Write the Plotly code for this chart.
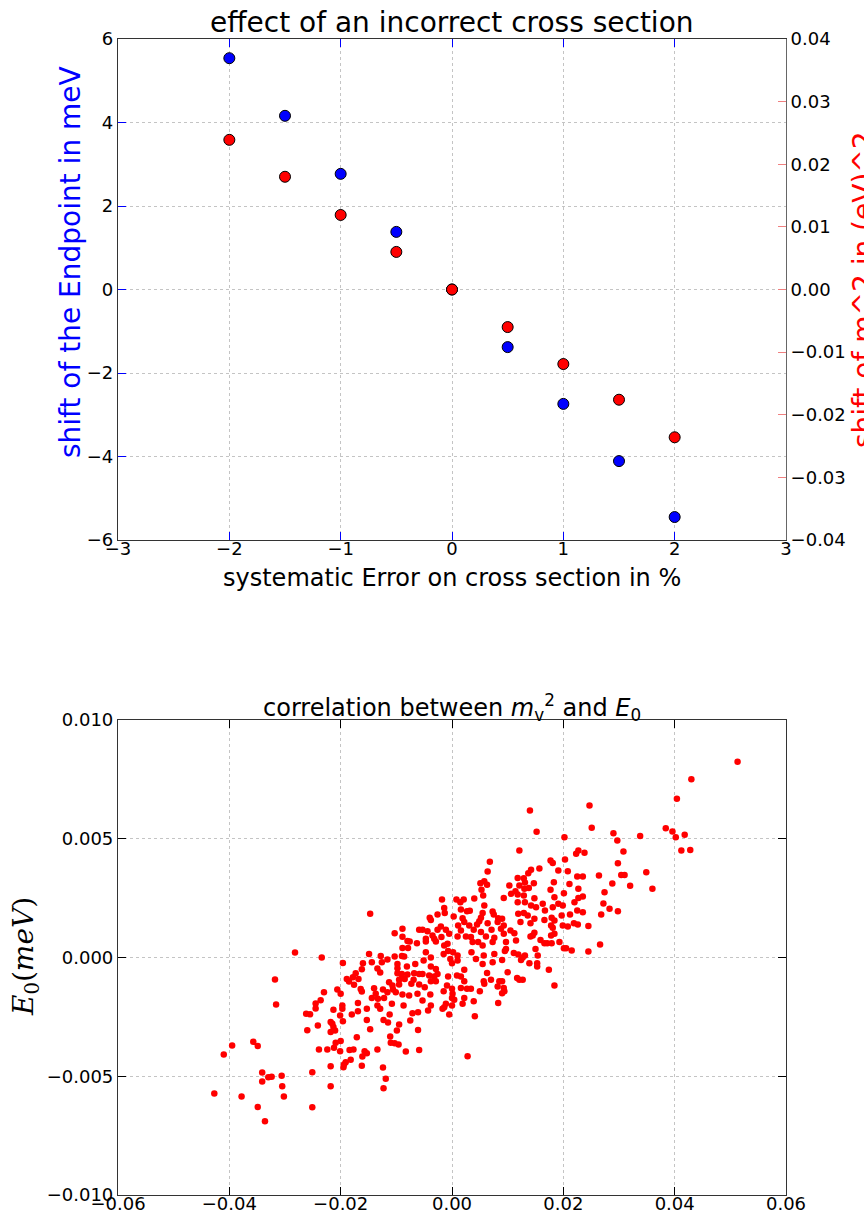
import plotly.graph_objects as go

# ---------------- top panel data ----------------
cs_error_pct = [-2.0, -1.5, -1.0, -0.5, 0.0, 0.5, 1.0, 1.5, 2.0]
endpoint_shift_meV = [5.54, 4.16, 2.77, 1.38, 0.0, -1.38, -2.74, -4.11, -5.45]
m2_shift_eV2 = [0.0239, 0.0180, 0.0119, 0.0060, 0.0, -0.0060, -0.0119, -0.0176, -0.0236]

top_x_ticks = [-3, -2, -1, 0, 1, 2, 3]
top_y_ticks = [-6, -4, -2, 0, 2, 4, 6]
top_y2_ticks = [-0.04, -0.03, -0.02, -0.01, 0.0, 0.01, 0.02, 0.03, 0.04]

# ---------------- bottom panel data (m_v^2 shift, E0 shift) ----------------
corr_pairs = [
    (-0.0282, 0.00021), (-0.0234, 0.00000), (-0.0318, -0.00093), (-0.0230, -0.00146), (-0.0236, -0.00180),
    (-0.0245, -0.00194), (-0.0245, -0.00215), (-0.0316, -0.00198), (-0.0262, -0.00237), (-0.0255, -0.00239),
    (-0.0218, -0.00272), (-0.0241, -0.00286), (-0.0260, -0.00306), (-0.0218, -0.00314), (-0.0357, -0.00355),
    (-0.0349, -0.00373), (-0.0395, -0.00371), (-0.0410, -0.00408), (-0.0239, -0.00387), (-0.0224, -0.00387),
    (-0.0218, -0.00458), (-0.0341, -0.00484), (-0.0341, -0.00522), (-0.0330, -0.00504), (-0.0324, -0.00502),
    (-0.0306, -0.00498), (-0.0251, -0.00483), (-0.0305, -0.00542), (-0.0302, -0.00585), (-0.0218, -0.00542),
    (-0.0427, -0.00573), (-0.0378, -0.00585), (-0.0349, -0.00629), (-0.0251, -0.00630), (-0.0336, -0.00689),
    (-0.0147, 0.00184), (-0.0089, 0.00121), (-0.0103, 0.00102), (-0.0089, 0.00087), (-0.0080, 0.00070),
    (-0.0076, 0.00067), (-0.0059, 0.00117), (-0.0063, 0.00060), (-0.0089, 0.00040), (-0.0079, 0.00040),
    (-0.0149, 0.00015), (-0.0128, 0.00006), (-0.0103, 0.00004), (-0.0090, 0.00006), (-0.0086, 0.00004),
    (-0.0196, -0.00023), (-0.0160, -0.00024), (-0.0144, -0.00020), (-0.0126, -0.00020), (-0.0116, -0.00008),
    (-0.0098, -0.00027), (-0.0081, -0.00038), (-0.0066, -0.00027), (-0.0134, -0.00046), (-0.0098, -0.00045),
    (-0.0162, -0.00049), (-0.0129, -0.00063), (-0.0173, -0.00066), (-0.0178, -0.00083), (-0.0098, -0.00066),
    (-0.0090, -0.00069), (-0.0080, -0.00072), (-0.0068, -0.00066), (-0.0059, -0.00069), (-0.0189, -0.00090),
    (-0.0185, -0.00101), (-0.0168, -0.00091), (-0.0176, -0.00115), (-0.0113, -0.00104), (-0.0095, -0.00094),
    (-0.0090, -0.00086), (-0.0085, -0.00090), (-0.0069, -0.00094), (-0.0107, -0.00118), (-0.0095, -0.00114),
    (-0.0073, -0.00111), (-0.0059, -0.00114), (-0.0206, -0.00135), (-0.0164, -0.00133), (-0.0140, -0.00129),
    (-0.0124, -0.00135), (-0.0106, -0.00135),
    (-0.0200, -0.00153), (-0.0162, -0.00143), (-0.0137, -0.00153), (-0.0116, -0.00146), (-0.0101, -0.00146),
    (-0.0089, -0.00156), (-0.0077, -0.00160), (-0.0062, -0.00153), (-0.0144, -0.00170), (-0.0133, -0.00174),
    (-0.0122, -0.00170), (-0.0197, -0.00202), (-0.0169, -0.00192), (-0.0153, -0.00216), (-0.0134, -0.00202),
    (-0.0129, -0.00216), (-0.0108, -0.00195), (-0.0087, -0.00202), (-0.0213, -0.00220), (-0.0197, -0.00216),
    (-0.0180, -0.00240), (-0.0169, -0.00226), (-0.0201, -0.00244), (-0.0112, -0.00240), (-0.0071, -0.00235),
    (-0.0061, -0.00230), (-0.0196, -0.00268), (-0.0153, -0.00263), (-0.0123, -0.00263), (-0.0115, -0.00274),
    (-0.0095, -0.00282), (-0.0075, -0.00265), (-0.0215, -0.00279), (-0.0213, -0.00293), (-0.0210, -0.00307),
    (-0.0147, -0.00302), (-0.0099, -0.00307), (-0.0061, -0.00305), (-0.0171, -0.00336), (-0.0111, -0.00333),
    (-0.0209, -0.00359), (-0.0200, -0.00352), (-0.0110, -0.00359), (-0.0103, -0.00361), (-0.0096, -0.00366),
    (-0.0212, -0.00380), (-0.0134, -0.00387), (-0.0201, -0.00395), (-0.0184, -0.00389), (-0.0177, -0.00387),
    (-0.0157, -0.00395), (-0.0153, -0.00403), (-0.0083, -0.00396), (-0.0059, -0.00389), (-0.0161, -0.00417),
    (-0.0182, -0.00431), (-0.0191, -0.00441), (-0.0194, -0.00451), (-0.0195, -0.00462), (-0.0162, -0.00456),
    (-0.0124, -0.00463), (-0.0119, -0.00511), (-0.0123, -0.00550),
    (0.0068, 0.00403), (0.0064, 0.00362), (0.0051, 0.00313), (0.0058, 0.00321), (0.0063, 0.00306),
    (0.0053, 0.00285), (0.0056, 0.00261), (-0.0018, 0.00244), (0.0008, 0.00244), (0.0015, 0.00233),
    (0.0021, 0.00244), (0.0040, 0.00248), (0.0058, 0.00219), (-0.0014, 0.00208), (0.0016, 0.00202),
    (0.0027, 0.00195), (0.0032, 0.00197), (0.0073, 0.00194), (-0.0013, 0.00187), (-0.0026, 0.00181),
    (0.0055, 0.00187), (-0.0040, 0.00167), (0.0003, 0.00173), (0.0019, 0.00165), (0.0052, 0.00167),
    (0.0075, 0.00181), (-0.0038, 0.00158), (0.0022, 0.00149), (0.0049, 0.00153), (0.0064, 0.00144),
    (0.0083, 0.00165), (0.0011, 0.00135), (0.0031, 0.00135), (0.0045, 0.00139), (-0.0020, 0.00131),
    (-0.0011, 0.00117), (-0.0026, 0.00117), (0.0082, 0.00149), (-0.0053, 0.00117), (-0.0044, 0.00111),
    (-0.0005, 0.00100), (0.0016, 0.00114), (0.0039, 0.00117), (0.0052, 0.00107), (0.0071, 0.00117),
    (0.0088, 0.00121), (-0.0035, 0.00093), (-0.0019, 0.00086), (0.0010, 0.00088), (0.0025, 0.00088),
    (0.0034, 0.00086), (0.0061, 0.00088), (-0.0047, 0.00079), (-0.0032, 0.00079), (0.0076, 0.00083),
    (-0.0047, 0.00067), (-0.0029, 0.00067), (-0.0014, 0.00051), (-0.0008, 0.00058), (0.0037, 0.00065),
    (0.0047, 0.00065), (0.0055, 0.00051), (0.0073, 0.00065), (-0.0047, 0.00022), (-0.0015, 0.00015),
    (-0.0007, 0.00027), (0.0002, 0.00022), (0.0010, 0.00008), (0.0035, 0.00022), (0.0043, -0.00006),
    (0.0057, 0.00008), (0.0076, 0.00015), (-0.0038, 0.00000), (-0.0003, -0.00006), (0.0000, -0.00024),
    (0.0010, -0.00013), (-0.0051, -0.00013), (0.0055, -0.00027), (0.0073, -0.00020), (-0.0038, -0.00038),
    (-0.0029, -0.00048), (0.0022, -0.00052), (0.0063, -0.00065), (-0.0053, -0.00069), (-0.0041, -0.00076),
    (-0.0032, -0.00080), (-0.0026, -0.00069), (-0.0007, -0.00080), (0.0009, -0.00076), (0.0016, -0.00080),
    (0.0070, -0.00094), (-0.0038, -0.00100), (-0.0029, -0.00100), (0.0022, -0.00100), (0.0057, -0.00100),
    (0.0085, -0.00100), (-0.0049, -0.00125), (-0.0009, -0.00118), (0.0058, -0.00111), (0.0082, -0.00122),
    (0.0000, -0.00132), (0.0016, -0.00128), (0.0027, -0.00132), (0.0034, -0.00132), (-0.0015, -0.00142),
    (0.0001, -0.00153), (0.0050, -0.00142), (-0.0039, -0.00156), (-0.0053, -0.00181), (0.0000, -0.00170),
    (0.0004, -0.00178), (0.0022, -0.00170), (0.0039, -0.00184), (-0.0011, -0.00195), (0.0019, -0.00195),
    (0.0083, -0.00192), (-0.0038, -0.00202), (-0.0014, -0.00209), (0.0000, -0.00202), (-0.0017, -0.00216),
    (-0.0043, -0.00223), (-0.0005, -0.00240), (0.0041, -0.00247), (0.0028, -0.00416),
    (0.0140, 0.00619), (0.0152, 0.00529), (0.0202, 0.00506), (0.0121, 0.00451), (0.0177, 0.00408),
    (0.0181, 0.00398), (0.0203, 0.00413), (0.0227, 0.00451), (0.0223, 0.00437), (0.0157, 0.00375),
    (0.0142, 0.00369), (0.0137, 0.00355), (0.0191, 0.00366), (0.0208, 0.00363), (0.0118, 0.00335),
    (0.0129, 0.00334), (0.0225, 0.00341), (0.0131, 0.00316), (0.0147, 0.00313), (0.0121, 0.00303),
    (0.0183, 0.00317), (0.0211, 0.00310), (0.0103, 0.00303), (0.0138, 0.00293), (0.0130, 0.00289),
    (0.0114, 0.00279), (0.0106, 0.00268), (0.0177, 0.00285), (0.0227, 0.00289), (0.0201, 0.00271),
    (0.0118, 0.00265), (0.0129, 0.00261), (0.0093, 0.00251), (0.0148, 0.00250), (0.0184, 0.00254),
    (0.0227, 0.00251),
    (0.0118, 0.00233), (0.0131, 0.00233), (0.0142, 0.00219), (0.0163, 0.00226), (0.0181, 0.00212),
    (0.0191, 0.00226), (0.0199, 0.00219), (0.0220, 0.00233), (0.0151, 0.00212), (0.0167, 0.00198),
    (0.0225, 0.00198), (0.0119, 0.00184), (0.0129, 0.00187), (0.0136, 0.00177), (0.0197, 0.00177),
    (0.0212, 0.00181), (0.0090, 0.00163), (0.0148, 0.00163), (0.0166, 0.00158), (0.0179, 0.00167),
    (0.0184, 0.00156), (0.0123, 0.00149), (0.0141, 0.00144), (0.0093, 0.00135), (0.0178, 0.00135),
    (0.0199, 0.00135), (0.0208, 0.00131), (0.0219, 0.00144), (0.0226, 0.00139), (0.0181, 0.00125),
    (0.0105, 0.00114), (0.0112, 0.00102), (0.0093, 0.00100), (0.0148, 0.00104), (0.0145, 0.00093),
    (0.0184, 0.00100), (0.0178, 0.00093), (0.0141, 0.00088), (0.0159, 0.00074), (0.0097, 0.00065),
    (0.0115, 0.00072), (0.0166, 0.00060), (0.0171, 0.00060), (0.0179, 0.00060), (0.0193, 0.00065),
    (0.0097, 0.00036), (0.0150, 0.00036), (0.0201, 0.00039), (0.0205, 0.00039), (0.0215, 0.00029),
    (0.0095, 0.00027), (0.0111, 0.00019), (0.0119, 0.00013), (0.0131, 0.00008), (0.0154, 0.00008),
    (0.0127, 0.00000), (0.0124, -0.00010), (0.0090, -0.00010), (0.0139, -0.00024), (0.0153, -0.00024),
    (0.0153, -0.00038), (0.0174, -0.00052), (0.0100, -0.00062), (0.0117, -0.00086), (0.0121, -0.00094),
    (0.0127, -0.00094), (0.0090, -0.00100), (0.0184, -0.00118), (0.0093, -0.00128), (0.0094, -0.00142),
    (0.0090, -0.00150),
    (0.0247, 0.00640), (0.0251, 0.00546), (0.0290, 0.00523), (0.0297, 0.00493), (0.0338, 0.00512),
    (0.0238, 0.00441), (0.0308, 0.00446), (0.0298, 0.00397), (0.0235, 0.00341), (0.0264, 0.00345),
    (0.0304, 0.00347), (0.0310, 0.00347), (0.0349, 0.00359), (0.0288, 0.00312), (0.0320, 0.00302),
    (0.0360, 0.00289), (0.0274, 0.00275), (0.0235, 0.00257), (0.0272, 0.00227), (0.0283, 0.00205),
    (0.0298, 0.00195), (0.0268, 0.00181), (0.0235, 0.00191), (0.0245, 0.00133), (0.0266, 0.00055),
    (0.0245, 0.00025),
    (0.0513, 0.00824), (0.0430, 0.00751), (0.0404, 0.00668), (0.0384, 0.00544), (0.0396, 0.00531),
    (0.0418, 0.00517), (0.0402, 0.00506), (0.0412, 0.00451), (0.0428, 0.00453),
]
corr_m2 = [p[0] for p in corr_pairs]
corr_e0 = [p[1] for p in corr_pairs]

bot_x_ticks = [-0.06, -0.04, -0.02, 0.0, 0.02, 0.04, 0.06]
bot_y_ticks = [-0.010, -0.005, 0.0, 0.005, 0.010]

FONT = "DejaVu Sans"
GRID = "#c4c4c4"
SPINE = "#333333"

fig = go.Figure()

fig.add_trace(go.Scatter(
    x=cs_error_pct, y=endpoint_shift_meV, mode="markers", xaxis="x", yaxis="y",
    marker=dict(color="blue", size=11, line=dict(color="black", width=1)), showlegend=False))
fig.add_trace(go.Scatter(
    x=cs_error_pct, y=m2_shift_eV2, mode="markers", xaxis="x", yaxis="y2",
    marker=dict(color="red", size=11, line=dict(color="black", width=1)), showlegend=False))
fig.add_trace(go.Scatter(
    x=corr_m2, y=corr_e0, mode="markers", xaxis="x2", yaxis="y3",
    marker=dict(color="red", size=6.5, line=dict(width=0)), showlegend=False))

top_dom = [1 - 501 / 1156, 1.0]
bot_dom = [0.0, 1 - 681 / 1156]

common = dict(showline=True, linecolor=SPINE, linewidth=1.2, ticks="inside", ticklen=8,
              showgrid=True, gridcolor=GRID, griddash="dot", gridwidth=1, zeroline=False,
              automargin=False, tickfont=dict(family=FONT, size=18, color="black"))

fig.update_layout(
    width=864, height=1216,
    margin=dict(l=118, r=78, t=39, b=21, autoexpand=False),
    paper_bgcolor="white", plot_bgcolor="white",
    font=dict(family=FONT, color="black"),
    xaxis=dict(domain=[0, 1], anchor="y", range=[-3, 3], tickvals=top_x_ticks,
               tickcolor="blue", mirror="ticks", ticklabelstandoff=-8, **common),
    yaxis=dict(domain=top_dom, anchor="x", range=[-6, 6], tickvals=top_y_ticks,
               tickcolor="blue", mirror=True, **common),
    yaxis2=dict(overlaying="y", anchor="x", side="right", range=[-0.04, 0.04],
                tickvals=top_y2_ticks, tickformat=".2f", showline=True, linecolor="#666666",
                ticks="inside", ticklen=8, tickcolor="#f08080", showgrid=False, zeroline=False,
                automargin=False, tickfont=dict(family=FONT, size=18, color="black")),
    xaxis2=dict(domain=[0, 1], anchor="y3", range=[-0.06, 0.06], tickvals=bot_x_ticks,
                tickformat=".2f", tickcolor="black", mirror="ticks", ticklabelstandoff=-8, **common),
    yaxis3=dict(domain=bot_dom, anchor="x2", range=[-0.010, 0.010], tickvals=bot_y_ticks,
                tickformat=".3f", tickcolor="black", mirror="ticks", **common),
)

ann = [
    dict(text="effect of an incorrect cross section", x=0.5, y=(1195 - 22) / 1156,
         font=dict(family=FONT, size=28, color="black")),
    dict(text="systematic Error on cross section in %", x=0.5, y=(1195 - 578) / 1156,
         font=dict(family=FONT, size=24, color="black")),
    dict(text="shift of the Endpoint in meV", x=(70 - 118) / 668, y=(1195 - 262) / 1156,
         textangle=-90, font=dict(family=FONT, size=28, color="blue")),
    dict(text="shift of m^2 in (eV)^2", x=(863 - 118) / 668, y=(1195 - 290) / 1156,
         textangle=-90, font=dict(family=FONT, size=28, color="red")),
    dict(text="correlation between <i>m</i><sub>v</sub><sup>2</sup> and <i>E</i><sub>0</sub>",
         x=0.5, y=(1195 - 707) / 1156, font=dict(family=FONT, size=24, color="black")),
    dict(text="<i>E</i><sub>0</sub>(<i>meV</i>)", x=(25 - 118) / 668, y=(1195 - 957) / 1156,
         textangle=-90, font=dict(family="DejaVu Serif", size=28, color="black")),
]
for a in ann:
    fig.add_annotation(xref="paper", yref="paper", showarrow=False,
                       xanchor="center", yanchor="middle", **a)

fig.write_html("out.html")
